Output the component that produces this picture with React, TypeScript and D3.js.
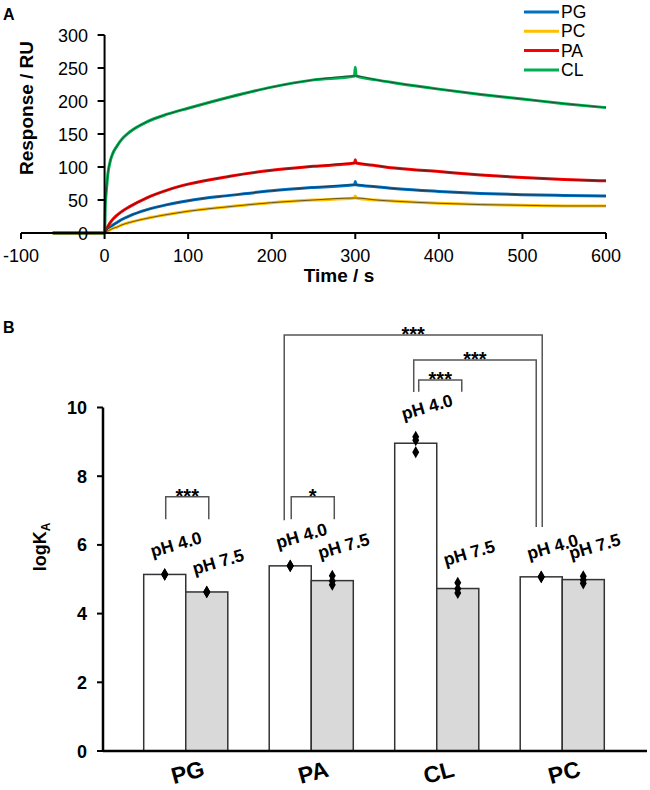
import React from "react";
import * as d3 from "d3";

// ---------- Panel A data (SPR sensorgrams) ----------
const times = [-62, -30, 0, 1, 2, 4, 7, 10, 15, 20, 30, 50, 75, 100, 150, 200, 250, 299, 300, 301, 325, 350, 400, 450, 500, 550, 600];
const pgResp = [0, 0, 0, 2, 3, 6, 9, 12, 16, 20, 26, 35, 43, 49, 57, 64, 69, 73, 78, 73, 70, 67, 63, 60, 58, 57, 56];
const pcResp = [0, 0, 0, 1, 2, 3, 5, 7, 9, 12, 16, 22, 28, 33, 40, 46, 50, 53, 56, 53, 50, 48, 45, 43, 42, 41, 41];
const paResp = [0, 0, 0, 3, 6, 10, 16, 21, 27, 32, 40, 53, 65, 74, 86, 95, 101, 106, 111, 106, 102, 98, 93, 88, 84, 81, 79];
const clResp = [0, 0, 0, 45, 62, 90, 110, 121, 132, 141, 153, 168, 180, 189, 206, 221, 232, 238, 251, 238, 232, 227, 218, 210, 203, 196, 190];
const seriesNames = ["PG", "PC", "PA", "CL"];
const seriesColors = ["#0070C0", "#FFC000", "#FF0000", "#00B050"];
const seriesValues = [pgResp, pcResp, paResp, clResp];
const xTicksA = [-100, 0, 100, 200, 300, 400, 500, 600];
const yTicksA = [0, 50, 100, 150, 200, 250, 300];

// ---------- Panel B data (logKA) ----------
const lipids = ["PG", "PA", "CL", "PC"];
const phs = ["pH 4.0", "pH 7.5"];
const mean40 = [5.14, 5.39, 8.96, 5.07];
const mean75 = [4.63, 4.96, 4.73, 4.99];
const reps40 = [[5.15, 5.13, 5.14], [5.40, 5.38, 5.39], [9.15, 9.05, 8.70], [5.07, 5.06, 5.08]];
const reps75 = [[4.63, 4.62, 4.64], [5.10, 4.95, 4.84], [4.90, 4.72, 4.60], [5.09, 4.98, 4.88]];
const yTicksB = [0, 2, 4, 6, 8, 10];
// significance brackets: endpoints (lipid, pH), top level and leg ends in logKA units
const sigLabels = ["***", "*", "***", "***", "***"];
const sigFrom = [["PG", "pH 4.0"], ["PA", "pH 4.0"], ["CL", "pH 4.0"], ["CL", "pH 4.0"], ["PA", "pH 4.0"]];
const sigTo = [["PG", "pH 7.5"], ["PA", "pH 7.5"], ["CL", "pH 7.5"], ["PC", "pH 4.0"], ["PC", "pH 4.0"]];
const sigTop = [7.4, 7.4, 10.8, 11.38, 12.11];
const sigFromEnd = [6.75, 6.75, 10.46, 10.45, 6.72];
const sigToEnd = [6.75, 6.75, 10.46, 6.52, 6.52];

const FONT = "'Liberation Sans', Arial, sans-serif";

export default function App() {
  // Panel A scales
  const xA = d3.scaleLinear().domain([-100, 600]).range([21, 606]);
  const yA = d3.scaleLinear().domain([0, 300]).range([233, 35]);
  const lineA = d3
    .line<[number, number]>()
    .x((d) => xA(d[0]))
    .y((d) => yA(d[1]))
    .curve(d3.curveMonotoneX);

  // Panel B scales
  const xB = d3.scaleBand<string>().domain(lipids).range([123, 625]).paddingInner(0.33).paddingOuter(0.165);
  const xPh = d3.scaleBand<string>().domain(phs).range([0, xB.bandwidth()]);
  const yB = d3.scaleLinear().domain([0, 10]).range([751, 407.5]);
  const means = [mean40, mean75];
  const reps = [reps40, reps75];
  const barCenter = (lip: string, ph: string) => (xB(lip) as number) + (xPh(ph) as number) + xPh.bandwidth() / 2;
  const legOffsets: number[][] = [[1, 2], [1, 2], [3, 4], [-2, -5], [-6, 1]];

  const diamond = d3.symbol().type(d3.symbolDiamond).size(42);

  return (
    <svg width={650} height={790} style={{ position: "absolute", left: 0, top: 0, background: "#fff" }} fontFamily={FONT}>
      {/* ============ Panel A ============ */}
      <text x={3} y={20} fontSize={16} fontWeight="bold">A</text>
      {seriesNames.map((name, si) => {
        const pts: [number, number][] = times.map((t, i) => [t, seriesValues[si][i]]);
        return (
          <path key={name} d={lineA(pts) as string} fill="none" stroke={seriesColors[si]} strokeWidth={3} strokeLinejoin="round" />
        );
      })}
      {seriesNames.map((name, si) => {
        const pts: [number, number][] = times
          .map((t, i) => [t, seriesValues[si][i]] as [number, number])
          .filter((d) => d[0] >= 0 && d[0] !== 300);
        return (
          <path key={"fit" + name} d={lineA(pts) as string} fill="none" stroke="#222" strokeWidth={0.9} strokeOpacity={0.75} />
        );
      })}
      <line x1={xA(-100)} x2={xA(600)} y1={yA(0)} y2={yA(0)} stroke="#000" strokeWidth={2} />
      <line x1={xA(0)} x2={xA(0)} y1={yA(0)} y2={yA(300)} stroke="#000" strokeWidth={2} />
      {xTicksA.map((t) => (
        <g key={"xt" + t}>
          <line x1={xA(t)} x2={xA(t)} y1={yA(0)} y2={yA(0) + 6} stroke="#000" strokeWidth={2} />
          <text x={xA(t)} y={262} fontSize={18} textAnchor="middle">{t}</text>
        </g>
      ))}
      {yTicksA.map((t) => (
        <g key={"yt" + t}>
          <line x1={xA(0) - 7} x2={xA(0)} y1={yA(t)} y2={yA(t)} stroke="#000" strokeWidth={2} />
          <text x={88} y={yA(t) + 6.5} fontSize={18} textAnchor="end">{t}</text>
        </g>
      ))}
      <text x={339} y={282} fontSize={19} fontWeight="bold" textAnchor="middle">Time / s</text>
      <text transform={`translate(33,108) rotate(-90)`} fontSize={19} fontWeight="bold" textAnchor="middle">Response / RU</text>
      {seriesNames.map((name, si) => {
        const ly = 12 + si * 19.3;
        return (
          <g key={"lg" + name}>
            <line x1={524} x2={559} y1={ly} y2={ly} stroke={seriesColors[si]} strokeWidth={3} />
            <text x={561} y={ly + 6} fontSize={17.5}>{name}</text>
          </g>
        );
      })}

      {/* ============ Panel B ============ */}
      <text x={3} y={333} fontSize={16} fontWeight="bold">B</text>
      {lipids.map((lip, li) =>
        phs.map((ph, pi) => {
          const x0 = (xB(lip) as number) + (xPh(ph) as number);
          const v = means[pi][li];
          return (
            <rect key={lip + ph} x={x0} y={yB(v)} width={xPh.bandwidth()} height={yB(0) - yB(v)}
              fill={pi === 0 ? "#ffffff" : "#d9d9d9"} stroke="#333" strokeWidth={1.5} />
          );
        })
      )}
      {lipids.map((lip, li) =>
        phs.map((ph, pi) =>
          reps[pi][li].map((v, ri) => (
            <path key={lip + ph + ri} d={diamond() as string} transform={`translate(${barCenter(lip, ph)},${yB(v)})`} fill="#000" />
          ))
        )
      )}
      {lipids.map((lip, li) =>
        phs.map((ph, pi) => {
          const v = Math.max(means[pi][li], ...reps[pi][li]);
          const cx = barCenter(lip, ph) + 13;
          const cy = yB(v) - 24;
          return (
            <text key={"lbl" + lip + ph} transform={`translate(${cx},${cy}) rotate(-16)`} fontSize={17.5} fontWeight="bold" textAnchor="middle">{ph}</text>
          );
        })
      )}
      {sigLabels.map((lab, i) => {
        const xa = barCenter(sigFrom[i][0], sigFrom[i][1]) + legOffsets[i][0];
        const xb = barCenter(sigTo[i][0], sigTo[i][1]) + legOffsets[i][1];
        const yt = yB(sigTop[i]);
        return (
          <g key={"sig" + i}>
            <path d={`M${xa},${yB(sigFromEnd[i])}V${yt}H${xb}V${yB(sigToEnd[i])}`} fill="none" stroke="#555" strokeWidth={1.5} />
            <text x={(xa + xb) / 2} y={yt + 6} fontSize={20} fontWeight="bold" textAnchor="middle">{lab}</text>
          </g>
        );
      })}
      <line x1={103} x2={647} y1={yB(0)} y2={yB(0)} stroke="#000" strokeWidth={2.5} />
      <line x1={103} x2={103} y1={yB(0)} y2={yB(10)} stroke="#000" strokeWidth={2.5} />
      {yTicksB.map((t) => (
        <g key={"ytb" + t}>
          <line x1={97} x2={103} y1={yB(t)} y2={yB(t)} stroke="#000" strokeWidth={2} />
          <text x={87} y={yB(t) + 6.5} fontSize={18} fontWeight="bold" textAnchor="end">{t}</text>
        </g>
      ))}
      <text transform={`translate(46,547) rotate(-90)`} fontSize={18} fontWeight="bold" textAnchor="middle">
        logK<tspan fontSize={12} dy={4}>A</tspan>
      </text>
      {lipids.map((lip) => (
        <text key={"cat" + lip} transform={`translate(${(xB(lip) as number) + xB.bandwidth() / 2 + 4},${780}) rotate(-15)`}
          fontSize={23} fontWeight="bold" textAnchor="middle">{lip}</text>
      ))}
    </svg>
  );
}
